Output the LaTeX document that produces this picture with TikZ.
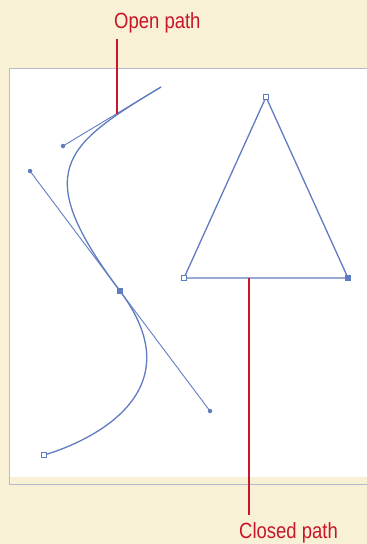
\documentclass[tikz,border=0pt]{standalone}
\usepackage{fontspec}
\setmainfont{Liberation Sans}[FakeStretch=0.84]
\definecolor{cream}{RGB}{248,241,214}
\definecolor{pathblue}{RGB}{96,124,192}
\definecolor{leadred}{RGB}{200,22,40}
\definecolor{framegrey}{RGB}{180,188,206}
\tikzset{
  pathline/.style={draw=pathblue, line width=1.3pt},
  handleline/.style={draw=pathblue, line width=0.9pt},
  leader/.style={draw=leadred, line width=2.8pt},
  label/.style={text=leadred, font=\fontsize{22}{25}\selectfont, inner sep=0pt},
  openanchor/.style={draw=pathblue, fill=white, line width=0.8pt, minimum size=4.5pt, inner sep=0pt, rectangle},
  fullanchor/.style={draw=pathblue, fill=pathblue, line width=0.8pt, minimum size=4.5pt, inner sep=0pt, rectangle},
  handledot/.style={fill=pathblue, circle, minimum size=4.5pt, inner sep=0pt}
}
\begin{document}
\begin{tikzpicture}[x=1pt,y=-1pt]
\fill[cream] (0,0) rectangle (367,544);
\useasboundingbox (0,0) rectangle (367,544);
% panel
\fill[white] (10,68) rectangle (367,477);
\draw[framegrey, line width=1pt] (367,68) -- (9.5,68) -- (9.5,484) -- (367,484);
% open path geometry
\coordinate (A1) at (161,87);
\coordinate (H1) at (63,146);
\coordinate (H2) at (30,171);
\coordinate (A2) at (120,291);
\coordinate (H3) at (210,411);
\coordinate (A3) at (44,455);
\draw[handleline] (A1) -- (H1);
\draw[handleline] (H2) -- (H3);
\draw[pathline] (A1) .. controls (H1) and (H2) .. (A2) .. controls (H3) and (A3) .. (A3);
\node[handledot] (h1) at (H1) {};
\node[handledot] (h2) at (H2) {};
\node[handledot] (h3) at (H3) {};
\node[fullanchor] (a2) at (A2) {};
\node[openanchor] (a3) at (A3) {};
% closed path
\coordinate (T1) at (266,97);
\coordinate (T2) at (184,278);
\coordinate (T3) at (348,278);
\draw[pathline] (T1) -- (T3) -- (T2) -- cycle;
\node[openanchor] (t1) at (T1) {};
\node[openanchor] (t2) at (T2) {};
\node[fullanchor] (t3) at (T3) {};
% labels and leaders
\node[label, anchor=base west] (openlbl) at (114,28) {Open path};
\node[label, anchor=base west] (closedlbl) at (239,538) {Closed path};
\coordinate (o1) at (117,39);
\coordinate (o2) at (117,113.5);
\draw[leader] (o1) -- (o2);
\coordinate (c1) at (249,278);
\coordinate (c2) at (249,515);
\draw[leader] (c1) -- (c2);
\end{tikzpicture}
\end{document}
